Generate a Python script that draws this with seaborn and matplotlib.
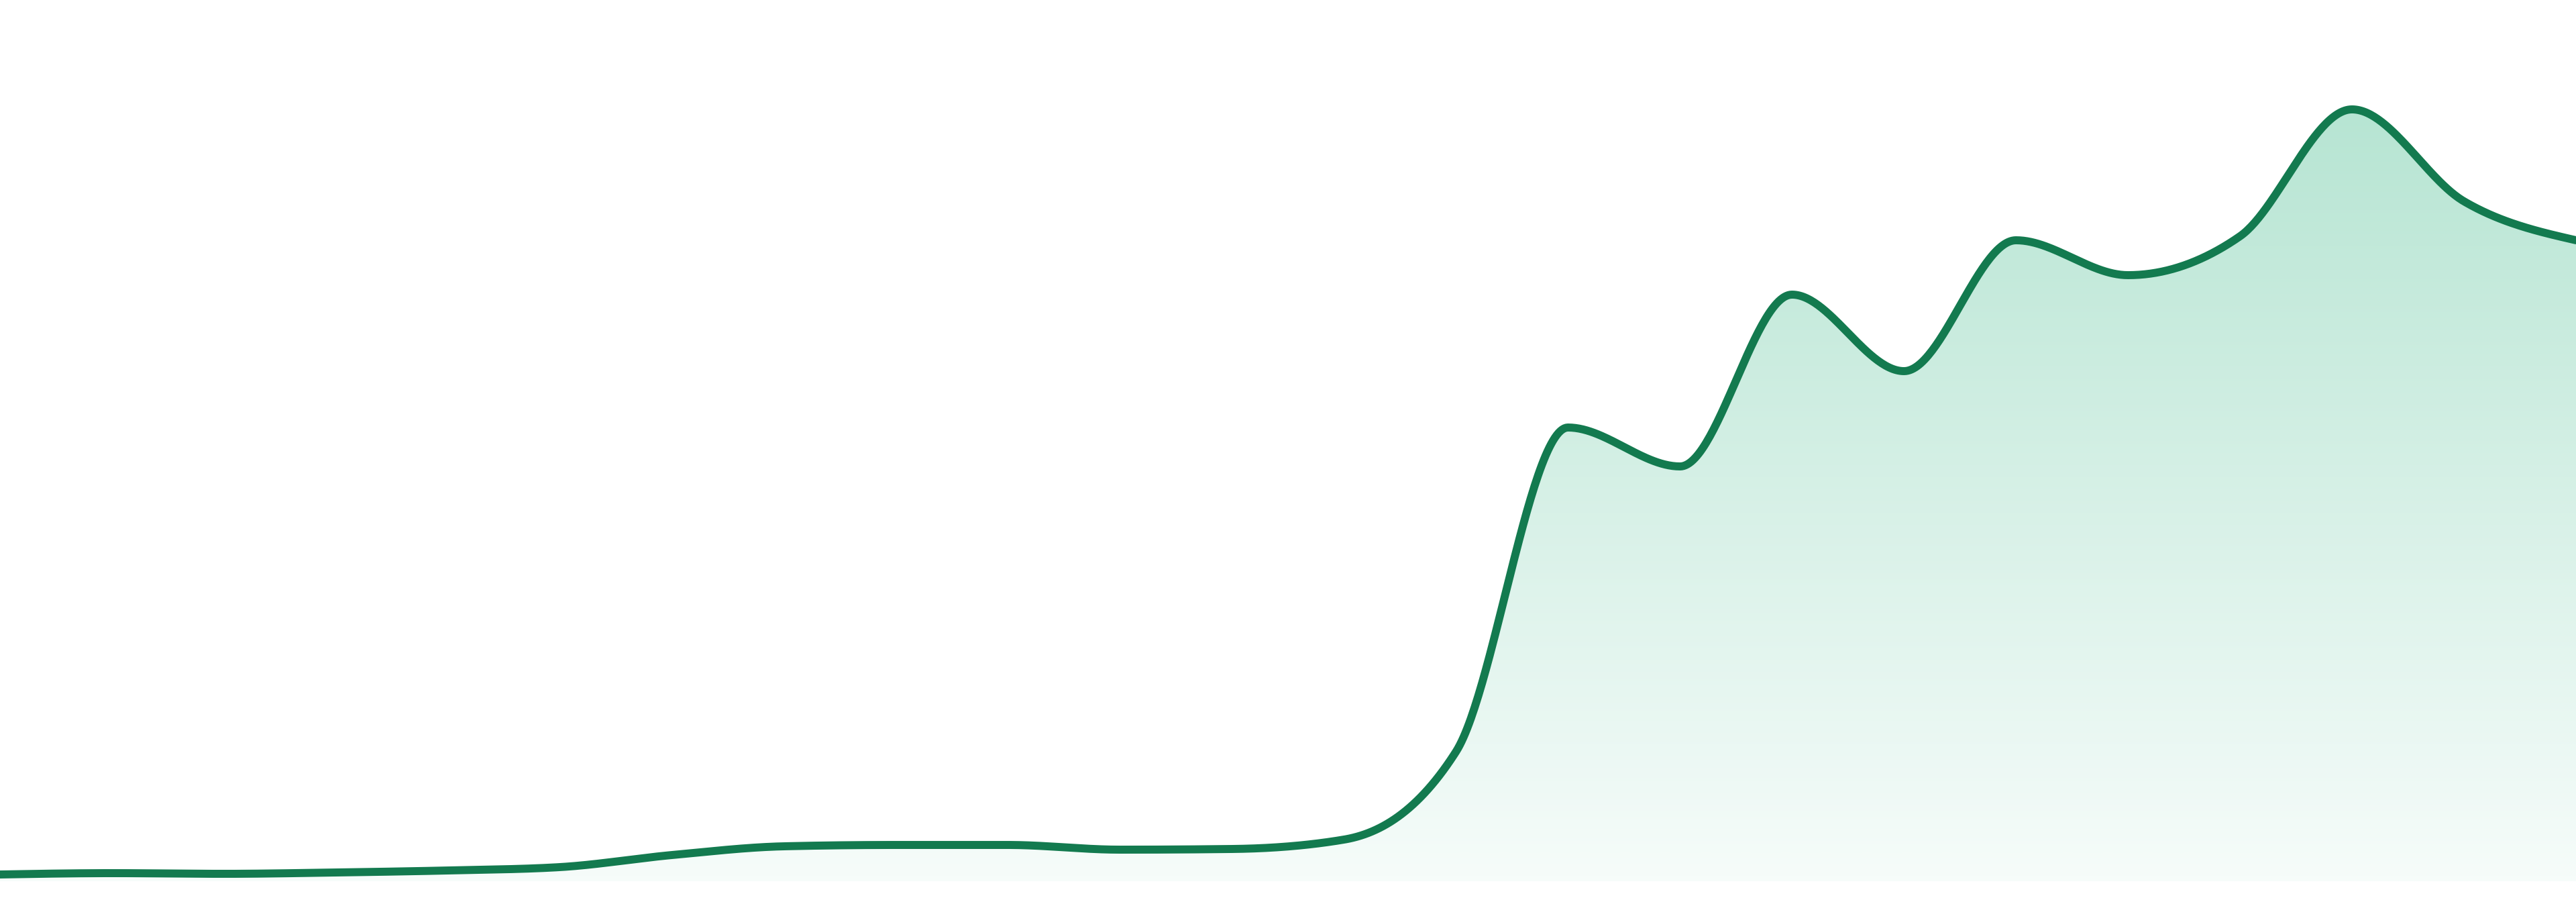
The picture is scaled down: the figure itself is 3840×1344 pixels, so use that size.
import numpy as np
import pandas as pd
import seaborn as sns
import matplotlib.pyplot as plt
from matplotlib.colors import LinearSegmentedColormap
from matplotlib.patches import PathPatch


## Data (one value per step)
steps = list(range(24))
values = [1.0, 1.2, 1.1, 1.3, 1.6, 2.1, 3.9, 5.2, 5.4, 5.4, 4.7, 4.8,
          6.2, 19.3, 67.6, 61.8, 87.4, 76.0, 95.5, 90.3, 96.1, 115.0, 101.3, 95.5]

line_color = '#137a4f'
fill_top = '#b7e5d3'
fill_bottom = '#f6fcfa'


def monotone_curve(x, y, n=60):
    # monotone cubic (d3 curveMonotoneX style) for the smooth line
    x = np.asarray(x, float)
    y = np.asarray(y, float)
    h = np.diff(x)
    s = np.diff(y) / h
    m = np.zeros_like(y)
    for i in range(1, len(y) - 1):
        p = (s[i-1] * h[i] + s[i] * h[i-1]) / (h[i-1] + h[i])
        m[i] = (np.sign(s[i-1]) + np.sign(s[i])) * min(abs(s[i-1]), abs(s[i]), 0.5 * abs(p))
    m[0] = (3 * s[0] - m[1]) / 2
    m[-1] = (3 * s[-1] - m[-2]) / 2
    xs, ys = [], []
    for i in range(len(h)):
        t = np.linspace(0, 1, n, endpoint=(i == len(h) - 1))
        h00 = 2*t**3 - 3*t**2 + 1
        h10 = t**3 - 2*t**2 + t
        h01 = -2*t**3 + 3*t**2
        h11 = t**3 - t**2
        xs.append(x[i] + t * h[i])
        ys.append(h00*y[i] + h10*h[i]*m[i] + h01*y[i+1] + h11*h[i]*m[i+1])
    return np.concatenate(xs), np.concatenate(ys)


xs, ys = monotone_curve(steps, values)
df = pd.DataFrame({'step': xs, 'value': ys})

## Plotting
sns.set_style('white')
fig = plt.figure(figsize=(38.4, 13.44), dpi=100)
ax = fig.add_axes([0, 31/1344, 1, 1313/1344])

# gradient area under the line
poly = ax.fill_between(df['step'], df['value'], 0, color='none', linewidth=0)
clip = PathPatch(poly.get_paths()[0], transform=ax.transData, facecolor='none', edgecolor='none')
ax.add_patch(clip)
cmap = LinearSegmentedColormap.from_list('grad', [fill_bottom, fill_top])
grad = np.linspace(0, 1, 256).reshape(-1, 1)
img = ax.imshow(grad, extent=[0, 23, 0, max(values)], origin='lower', aspect='auto',
                cmap=cmap, zorder=1, interpolation='bilinear')
img.set_clip_path(clip)

sns.lineplot(data=df, x='step', y='value', ax=ax, color=line_color, linewidth=8.6,
             sort=False, zorder=3, solid_capstyle='round', solid_joinstyle='round')

ax.set_xlim(0, 23)
ax.set_ylim(0, 131.3)
ax.axis('off')
fig.savefig('out.png', dpi=100, facecolor='white')
plt.close()
